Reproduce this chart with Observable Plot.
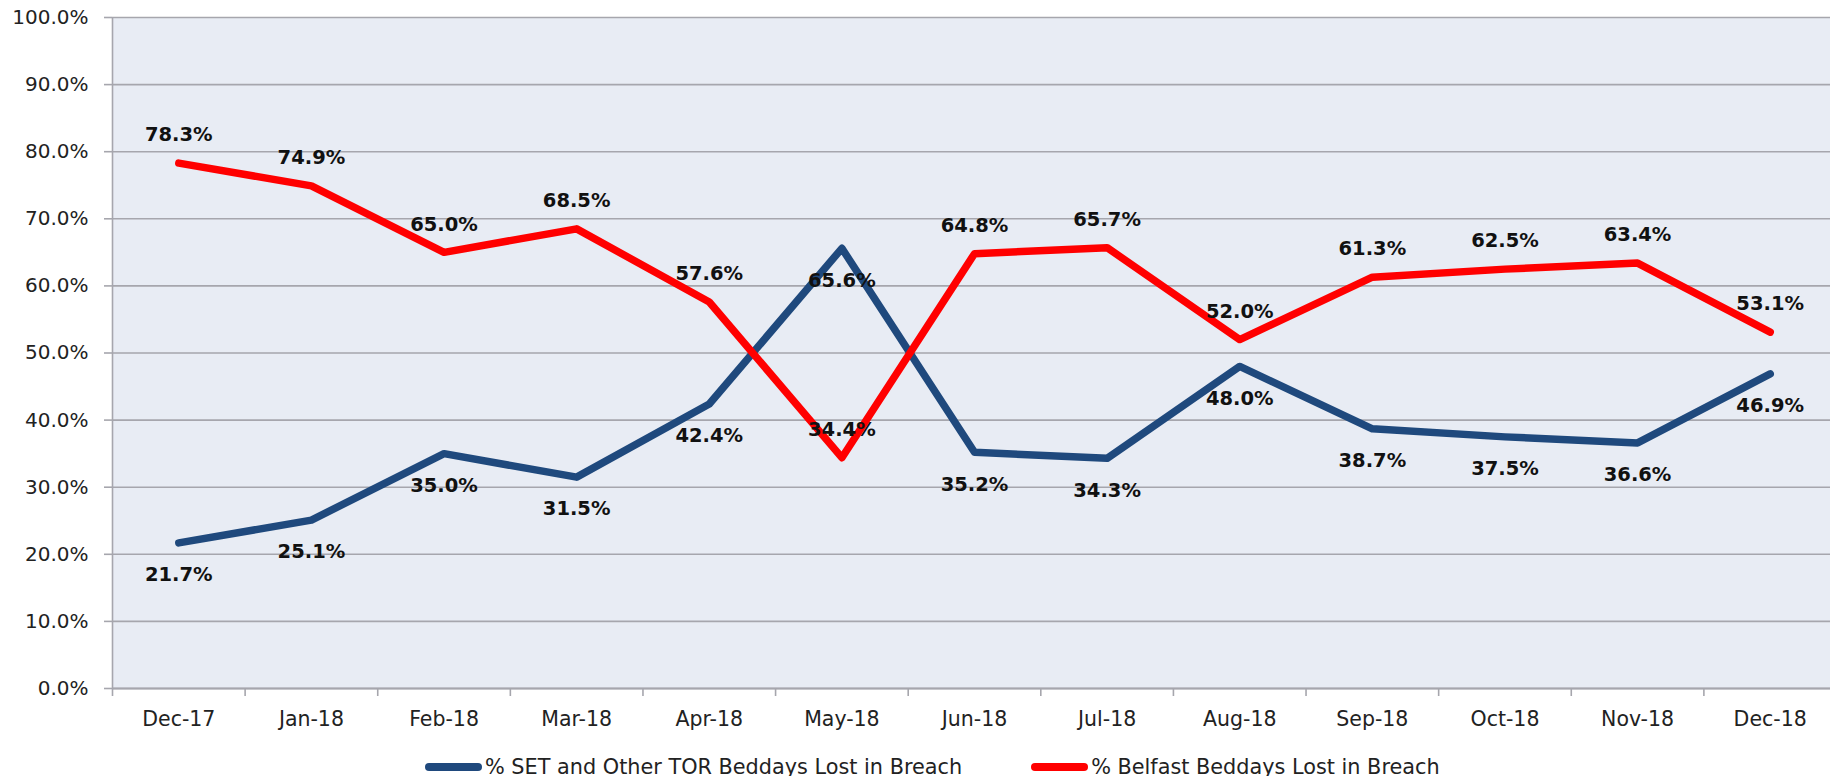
<!DOCTYPE html>
<html>
<head>
<meta charset="utf-8">
<script src="https://cdn.jsdelivr.net/npm/d3@7"></script>
<script src="https://cdn.jsdelivr.net/npm/@observablehq/plot@0.6"></script>
<style>
  html, body { margin: 0; padding: 0; background: #fff; }
  body { width: 1830px; height: 776px; overflow: hidden; font-family: "DejaVu Sans", Verdana, sans-serif; }
  #chart svg { display: block; overflow: visible; }
  #legend { height: 44px; display: flex; align-items: center; padding-left: 425px; font-size: 20.8px; color: #222; }
  .item { display: flex; align-items: center; margin-right: 69px; white-space: nowrap; }
  .sw { width: 57px; height: 8px; border-radius: 4px; margin-right: 3px; }
</style>
</head>
<body>
<div id="chart"></div>
<div id="legend"></div>
<script>
const months = ["Dec-17","Jan-18","Feb-18","Mar-18","Apr-18","May-18","Jun-18","Jul-18","Aug-18","Sep-18","Oct-18","Nov-18","Dec-18"];
const setValues = [21.7, 25.1, 35.0, 31.5, 42.4, 65.6, 35.2, 34.3, 48.0, 38.7, 37.5, 36.6, 46.9];
const belfastValues = [78.3, 74.9, 65.0, 68.5, 57.6, 34.4, 64.8, 65.7, 52.0, 61.3, 62.5, 63.4, 53.1];
const yTicks = [0, 10, 20, 30, 40, 50, 60, 70, 80, 90, 100];
const seriesNames = ["% SET and Other TOR Beddays Lost in Breach", "% Belfast Beddays Lost in Breach"];
const seriesColors = ["#1f497d", "#ff0000"];

const rows = months.map((m, i) => ({month: m, idx: i + 0.5, set: setValues[i], belfast: belfastValues[i]}));
const boundaries = d3.range(months.length + 1);
const fmt = d => d.toFixed(1) + "%";
const gray = "#a6a6ad";

const chart = Plot.plot({
  width: 1830,
  height: 745,
  marginLeft: 112,
  marginRight: -6,
  marginTop: 17,
  marginBottom: 57,
  style: {fontFamily: "DejaVu Sans, Verdana, sans-serif", color: "#222", background: "transparent"},
  x: {type: "linear", domain: [0, months.length], axis: null},
  y: {domain: [0, 100], axis: null},
  marks: [
    Plot.frame({fill: "#e8ecf4", stroke: "none"}),
    Plot.gridY(yTicks, {stroke: gray, strokeOpacity: 1, strokeWidth: 1.6}),
    Plot.ruleX([0], {stroke: gray, strokeWidth: 1.6}),
    Plot.ruleY([0], {stroke: gray, strokeWidth: 2}),
    Plot.axisY(yTicks, {tickFormat: fmt, tickSize: 8, tickPadding: 16, stroke: gray, strokeWidth: 1.6, fontSize: 20, label: null}),
    Plot.axisX(boundaries, {tickFormat: () => "", tickSize: 8, stroke: gray, strokeWidth: 1.6, label: null}),
    Plot.text(rows, {x: "idx", y: () => 0, text: "month", dy: 31, fontSize: 20.5, lineAnchor: "middle", fill: "#222"}),
    Plot.line(rows, {x: "idx", y: "set", stroke: seriesColors[0], strokeWidth: 7.5, strokeLinecap: "round", strokeLinejoin: "round"}),
    Plot.line(rows, {x: "idx", y: "belfast", stroke: seriesColors[1], strokeWidth: 7.5, strokeLinecap: "round", strokeLinejoin: "round"}),
    Plot.text(rows, {x: "idx", y: "belfast", text: d => fmt(d.belfast), dy: -28, fontSize: 19.5, fontWeight: "bold", fill: "#111", lineAnchor: "middle"}),
    Plot.text(rows, {x: "idx", y: "set", text: d => fmt(d.set), dy: 32, fontSize: 19.5, fontWeight: "bold", fill: "#111", lineAnchor: "middle"})
  ]
});
document.getElementById("chart").append(chart);

const legend = document.getElementById("legend");
seriesNames.forEach((name, i) => {
  const item = document.createElement("div");
  item.className = "item";
  const sw = document.createElement("span");
  sw.className = "sw";
  sw.style.background = seriesColors[i];
  const label = document.createElement("span");
  label.textContent = name;
  item.append(sw, label);
  legend.append(item);
});
</script>
</body>
</html>
